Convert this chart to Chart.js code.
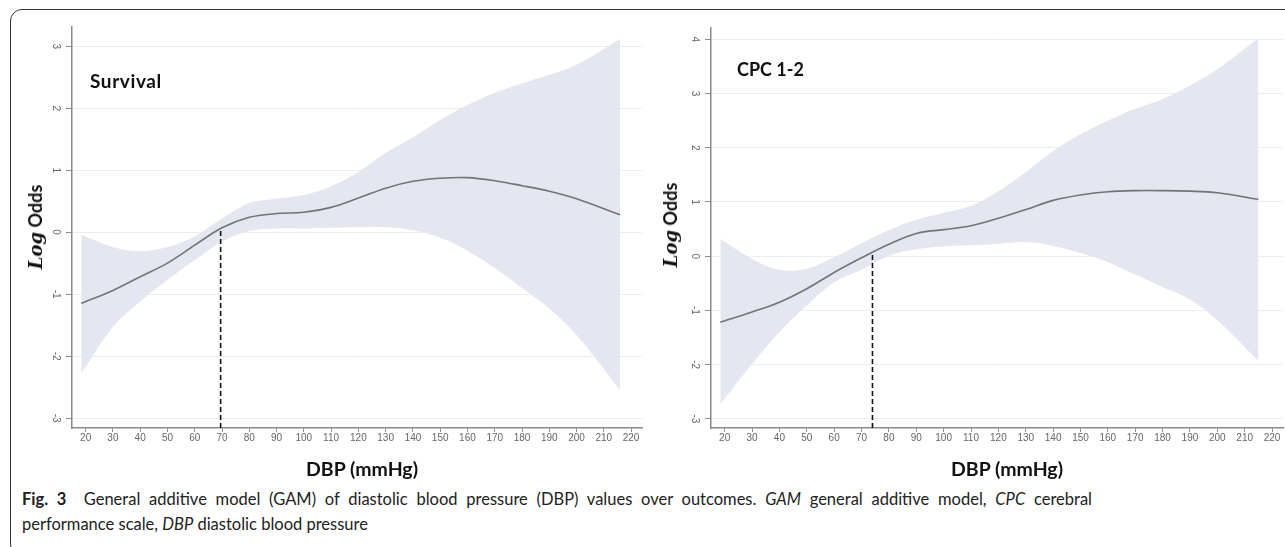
<!DOCTYPE html>
<html>
<head>
<meta charset="utf-8">
<script src="https://cdn.jsdelivr.net/npm/chart.js@4.4.1/dist/chart.umd.min.js"></script>
<style>
  html, body { margin: 0; padding: 0; background: #fff; }
  #fig { position: relative; width: 1285px; height: 547px; overflow: hidden; background: #fff; font-family: Lato, sans-serif; }
  #frame { position: absolute; left: 10px; top: 9px; width: 1400px; height: 545px; border: 1.5px solid #333; border-radius: 12px; }
  canvas { position: absolute; top: 0; }
  .ylab { position: absolute; transform: translate(-50%, -50%) rotate(-90deg); white-space: nowrap; font-size: 18px; color: #111; }
  .ylab .log { font-family: "DejaVu Serif", serif; font-style: italic; font-weight: bold; }
  .ylab .odds { font-family: Lato, sans-serif; font-weight: bold; }
  .panel { position: absolute; font-weight: bold; font-size: 18px; color: #111; line-height: 1; }
  .xlab { position: absolute; transform: translateX(-50%); font-weight: bold; font-size: 19.5px; color: #111; line-height: 1; white-space: nowrap; }
  .cap { position: absolute; left: 22px; font-size: 16.5px; line-height: 25px; color: #222; white-space: nowrap; }
  #cap1 { top: 487px; width: 1070px; text-align: justify; text-align-last: justify; white-space: normal; }
  #cap2 { top: 512px; }
</style>
</head>
<body>
<div id="fig">
  <div id="frame"></div>
  <canvas id="survivalChart" width="660" height="460" style="left:0"></canvas>
  <canvas id="cpcChart" width="645" height="460" style="left:640px"></canvas>

  <div class="ylab" style="left:35px; top:227px"><span class="log">Log</span> <span class="odds">Odds</span></div>
  <div class="ylab" style="left:670px; top:225px"><span class="log">Log</span> <span class="odds">Odds</span></div>

  <div class="panel" style="left:90px; top:71px; font-size:19px; letter-spacing:0.6px">Survival</div>
  <div class="panel" style="left:737px; top:60px">CPC 1-2</div>

  <div class="xlab" style="left:362px; top:459px">DBP (mmHg)</div>
  <div class="xlab" style="left:1007px; top:459px">DBP (mmHg)</div>

  <div class="cap" id="cap1"><b>Fig. 3</b>&nbsp; General additive model (GAM) of diastolic blood pressure (DBP) values over outcomes. <i>GAM</i> general additive model, <i>CPC</i> cerebral</div>
  <div class="cap" id="cap2">performance scale, <i>DBP</i> diastolic blood pressure</div>
</div>

<script>
// Survival panel
const survivalDbp   = [18.4, 30, 40, 50, 60, 70, 80, 90, 100, 110, 120, 130, 140, 150, 160, 170, 180, 190, 200, 216];
const survivalFit   = [-1.15, -0.94, -0.72, -0.50, -0.21, 0.07, 0.24, 0.30, 0.32, 0.40, 0.55, 0.71, 0.82, 0.87, 0.88, 0.83, 0.75, 0.66, 0.54, 0.28];
const survivalUpper = [-0.04, -0.24, -0.31, -0.24, -0.07, 0.22, 0.47, 0.54, 0.60, 0.74, 0.97, 1.28, 1.53, 1.81, 2.05, 2.25, 2.40, 2.54, 2.70, 3.12];
const survivalLower = [-2.28, -1.53, -1.12, -0.77, -0.45, -0.15, 0.02, 0.06, 0.06, 0.07, 0.08, 0.08, 0.03, -0.09, -0.30, -0.58, -0.90, -1.23, -1.66, -2.55];
const survivalCut = 69.5;
const survivalCutOdds = 0.05;

// CPC 1-2 panel
const cpcDbp   = [18.4, 30, 40, 50, 60, 70, 80, 90, 100, 110, 120, 130, 140, 150, 160, 170, 180, 190, 200, 215];
const cpcFit   = [-1.22, -1.03, -0.85, -0.60, -0.30, -0.03, 0.22, 0.42, 0.49, 0.56, 0.70, 0.86, 1.03, 1.13, 1.19, 1.21, 1.21, 1.20, 1.17, 1.05];
const cpcUpper = [0.32, -0.05, -0.25, -0.23, -0.02, 0.24, 0.48, 0.67, 0.80, 0.93, 1.20, 1.55, 1.94, 2.25, 2.50, 2.72, 2.90, 3.15, 3.45, 4.02];
const cpcLower = [-2.73, -1.99, -1.40, -0.91, -0.48, -0.25, 0.01, 0.13, 0.18, 0.20, 0.23, 0.26, 0.19, 0.06, -0.11, -0.34, -0.57, -0.80, -1.18, -1.93];
const cpcCut = 74;
const cpcCutOdds = 0.08;

const xMin = 15, xMax = 224, xStep = 10;

const bandColor = '#e4e7ef';
const lineColor = '#737379';
const axisColor = '#8a8a8a';

function pts(xs, ys) {
    return xs.map((x, i) => ({ x: x, y: ys[i] }));
}

function makeChart(id, dbp, fit, upper, lower, cut, cutOdds, yMin, yMax, pad) {
    const ctx = document.getElementById(id).getContext('2d');
    return new Chart(ctx, {
        type: 'line',
        data: {
            datasets: [
                {
                    data: pts(dbp, fit),
                    borderColor: lineColor,
                    borderWidth: 1.6,
                    pointRadius: 0,
                    tension: 0.35,
                    fill: false,
                    order: 0
                },
                {
                    data: [{ x: cut, y: yMin }, { x: cut, y: cutOdds }],
                    borderColor: '#111',
                    borderWidth: 1.6,
                    borderDash: [5, 3],
                    pointRadius: 0,
                    fill: false,
                    order: 1
                },
                {
                    data: pts(dbp, upper),
                    borderWidth: 0,
                    borderColor: 'rgba(0,0,0,0)',
                    backgroundColor: bandColor,
                    pointRadius: 0,
                    tension: 0.35,
                    fill: '+1',
                    order: 2
                },
                {
                    data: pts(dbp, lower),
                    borderWidth: 0,
                    borderColor: 'rgba(0,0,0,0)',
                    pointRadius: 0,
                    tension: 0.35,
                    fill: false,
                    order: 3
                }
            ]
        },
        options: {
            responsive: false,
            animation: false,
            events: [],
            layout: { padding: pad },
            plugins: { legend: { display: false }, tooltip: { enabled: false } },
            scales: {
                x: {
                    type: 'linear',
                    min: xMin,
                    max: xMax,
                    afterFit: s => { s.height = 32; },
                    border: { color: axisColor, width: 1.5 },
                    grid: { drawOnChartArea: false, tickLength: 4, tickColor: axisColor },
                    ticks: {
                        stepSize: xStep,
                        includeBounds: false,
                        autoSkip: false,
                        maxRotation: 0,
                        padding: 0,
                        color: '#666',
                        font: { family: 'Arial, Liberation Sans', size: 10 }
                    }
                },
                y: {
                    min: yMin,
                    max: yMax,
                    afterFit: s => { s.width = 32; },
                    border: { color: axisColor, width: 1.5 },
                    grid: { color: '#ededed', lineWidth: 1, tickLength: 6, tickColor: axisColor },
                    ticks: {
                        stepSize: 1,
                        includeBounds: false,
                        minRotation: -90,
                        maxRotation: -90,
                        crossAlign: 'center',
                        padding: 6,
                        color: '#666',
                        font: { family: 'Arial, Liberation Sans', size: 10 }
                    }
                }
            }
        }
    });
}

makeChart('survivalChart', survivalDbp, survivalFit, survivalUpper, survivalLower,
    survivalCut, survivalCutOdds, -3.16, 3.31, { left: 40, right: 18, top: 27, bottom: 0 });
makeChart('cpcChart', cpcDbp, cpcFit, cpcUpper, cpcLower,
    cpcCut, cpcCutOdds, -3.17, 4.21, { left: 39, right: 2, top: 28, bottom: 0 });
</script>
</body>
</html>
